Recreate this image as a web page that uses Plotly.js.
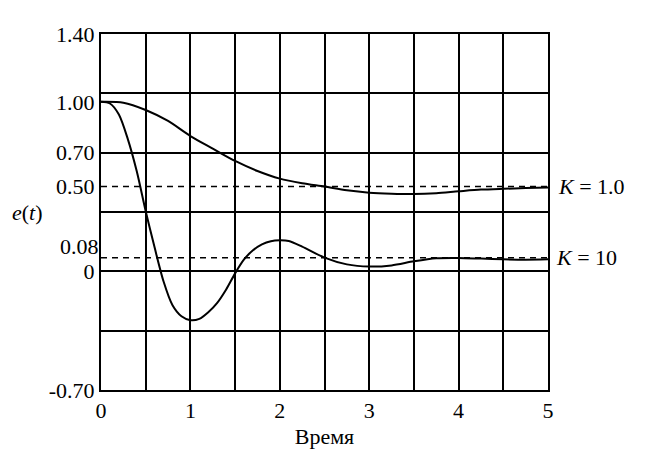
<!DOCTYPE html>
<html>
<head>
<meta charset="utf-8">
<script src="https://cdn.plot.ly/plotly-3.0.1.min.js"></script>
<style>html,body{margin:0;padding:0;background:#fff;}#chart{width:645px;height:460px;}</style>
</head>
<body>
<div id="chart"></div>
<script>
// Time values and error responses
const tK1 = [0, 0.25, 0.5, 0.75, 1, 1.25, 1.5, 1.75, 2, 2.25, 2.5, 2.75, 3, 3.25, 3.5, 3.75, 4, 4.25, 4.5, 4.75, 5];
const eK1 = [1.0, 0.995, 0.952, 0.887, 0.798, 0.724, 0.651, 0.592, 0.547, 0.52, 0.5, 0.478, 0.464, 0.458, 0.456, 0.461, 0.472, 0.482, 0.487, 0.491, 0.494];

const tK10 = [0, 0.1, 0.2, 0.3, 0.4, 0.5, 0.6, 0.7, 0.8, 0.9, 1.0, 1.1, 1.2, 1.3, 1.4, 1.5, 1.6, 1.7, 1.8, 1.9, 2.0, 2.1, 2.25, 2.5, 2.75, 3, 3.25, 3.5, 3.75, 4, 4.25, 4.5, 4.75, 5];
const eK10 = [1.0, 0.99, 0.925, 0.78, 0.59, 0.355, 0.14, -0.06, -0.2, -0.265, -0.288, -0.28, -0.241, -0.186, -0.107, -0.012, 0.07, 0.124, 0.159, 0.178, 0.183, 0.179, 0.146, 0.081, 0.041, 0.028, 0.035, 0.059, 0.077, 0.079, 0.075, 0.071, 0.069, 0.071];

const refX = [0, 5];
const refK1 = 0.5;
const refK10 = 0.08;

const labelK1 = "<i>K</i> = 1.0";
const labelK10 = "<i>K</i> = 10";
const yTitle = "<i>e</i>(<i>t</i>)";
const xTitle = "Время";

const xTickVals = [0, 0.5, 1, 1.5, 2, 2.5, 3, 3.5, 4, 4.5, 5];
const xTickText = ["0", "", "1", "", "2", "", "3", "", "4", "", "5"];
const yTickVals = [1.4, 1.0, 0.7, 0.5, 0, -0.7];
const yTickText = ["1.40", "1.00", "0.70", "0.50", "0", "-0.70"];
const yLabel008 = "0.08";
const yGridStep = 0.35;

const serif = "Liberation Serif, Times New Roman, serif";
const ink = "#000";
const fs = 22;

const traces = [
  {x: refX, y: [refK1, refK1], mode: "lines", line: {color: ink, width: 1.6, dash: "6px,5px"}, yaxis: "y2", hoverinfo: "skip"},
  {x: refX, y: [refK10, refK10], mode: "lines", line: {color: ink, width: 1.6, dash: "6px,5px"}, yaxis: "y2", hoverinfo: "skip"},
  {x: tK1, y: eK1, mode: "lines", line: {color: ink, width: 2, shape: "spline", smoothing: 0.8}},
  {x: tK10, y: eK10, mode: "lines", line: {color: ink, width: 2, shape: "spline", smoothing: 0.8}}
];

const layout = {
  width: 645, height: 460,
  margin: {l: 101, r: 97, t: 34, b: 70},
  paper_bgcolor: "#fff", plot_bgcolor: "#fff",
  showlegend: false,
  font: {family: serif, color: ink, size: fs},
  xaxis: {
    range: [0, 5], tickmode: "array", tickvals: xTickVals, ticktext: xTickText,
    showgrid: true, gridcolor: ink, gridwidth: 2, zeroline: false,
    showline: true, mirror: true, linecolor: ink, linewidth: 2,
    ticks: "", tickfont: {family: serif, size: fs, color: ink},
    title: {text: xTitle, font: {family: serif, size: fs, color: ink}, standoff: 6}
  },
  yaxis: {
    range: [-0.7, 1.4], tickmode: "array", tickvals: yTickVals, ticktext: yTickText,
    showgrid: false, zeroline: false,
    showline: true, mirror: true, linecolor: ink, linewidth: 2,
    ticks: "", ticklabelstandoff: 0, tickfont: {family: serif, size: fs, color: ink}
  },
  yaxis2: {
    overlaying: "y", range: [-0.7, 1.4], tickmode: "linear", tick0: 0, dtick: yGridStep,
    showgrid: true, gridcolor: ink, gridwidth: 2, zeroline: false,
    showticklabels: false, showline: false, ticks: ""
  },
  annotations: [
    {xref: "paper", yref: "y", x: 1, y: refK1, xanchor: "left", yanchor: "middle", xshift: 8, showarrow: false, text: labelK1, font: {family: serif, size: fs, color: ink}},
    {xref: "paper", yref: "y", x: 1, y: refK10, xanchor: "left", yanchor: "middle", xshift: 6, showarrow: false, text: labelK10, font: {family: serif, size: fs, color: ink}},
    {xref: "paper", yref: "y", x: 0, y: refK10, xanchor: "right", yanchor: "middle", xshift: -1, yshift: 11, borderpad: 0, showarrow: false, text: yLabel008, font: {family: serif, size: fs, color: ink}},
    {xref: "paper", yref: "paper", x: 0, y: 0.5, xanchor: "center", yanchor: "middle", xshift: -74, showarrow: false, text: yTitle, font: {family: serif, size: fs, color: ink}}
  ]
};

Plotly.newPlot("chart", traces, layout, {staticPlot: true, displayModeBar: false});
</script>
</body>
</html>
